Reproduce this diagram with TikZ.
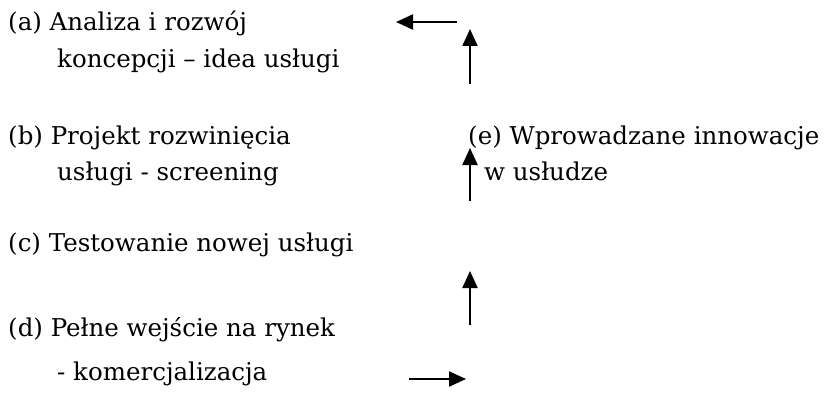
\documentclass[tikz,border=0pt]{standalone}
\usepackage{fontspec}
\setmainfont{DejaVu Serif}
\usetikzlibrary{arrows.meta}
\begin{document}
\begin{tikzpicture}[x=1pt,y=-1pt,
  label text/.style={anchor=base west,inner sep=0pt,font=\fontsize{24.5}{29}\selectfont},
  flow/.style={line width=2.2pt,-{Triangle[width=15pt,length=17pt]}}]
\useasboundingbox (0,0) rectangle (834,396);
% stages of the service development process
\node[label text] (a1) at (8,31)  {(a) Analiza i rozwój};
\node[label text] (a2) at (57,67) {koncepcji – idea usługi};
\node[label text] (b1) at (8,144) {(b) Projekt rozwinięcia};
\node[label text] (b2) at (57,180) {usługi - screening};
\node[label text] (c1) at (8,251) {(c) Testowanie nowej usługi};
\node[label text] (d1) at (8,336) {(d) Pełne wejście na rynek};
\node[label text] (d2) at (57,380) {- komercjalizacja};
\node[label text] (e1) at (468,144) {(e) Wprowadzane innowacje};
\node[label text] (e2) at (484,180) {w usłudze};
% feedback loop from (d) back to (a)
\coordinate (r0) at (409,379); \coordinate (r1) at (466,379);
\coordinate (u30) at (470,325); \coordinate (u31) at (470,271);
\coordinate (u20) at (470,201); \coordinate (u21) at (470,148);
\coordinate (u10) at (470,84);  \coordinate (u11) at (470,29);
\coordinate (l0) at (457,22);   \coordinate (l1) at (396,22);
\draw[flow] (r0) -- (r1);
\draw[flow] (u30) -- (u31);
\draw[flow] (u20) -- (u21);
\draw[flow] (u10) -- (u11);
\draw[flow] (l0) -- (l1);
\end{tikzpicture}
\end{document}
